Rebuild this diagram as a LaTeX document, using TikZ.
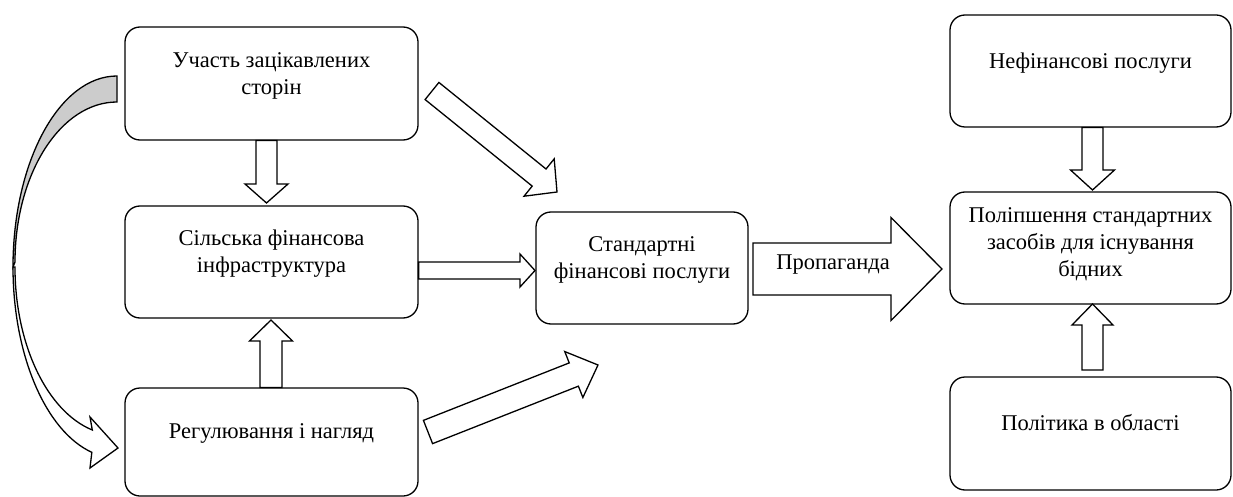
\documentclass[tikz,border=0pt]{standalone}
\usepackage{fontspec}
\setmainfont{Liberation Serif}
\usetikzlibrary{calc}
\newcommand\blockarrow[6][]{%
  \coordinate (ba-h) at ($(#3)!#6!(#2)$);
  \draw[barrow,#1] ($(#2)!#4!90:(#3)$) -- ($(ba-h)!#4!90:(#3)$) -- ($(ba-h)!#5!90:(#3)$) -- (#3)
    -- ($(ba-h)!#5!-90:(#3)$) -- ($(ba-h)!#4!-90:(#3)$) -- ($(#2)!#4!-90:(#3)$) -- cycle;}
\begin{document}
\begin{tikzpicture}[x=1pt,y=-1pt]
\tikzset{
  box/.style={draw=black, line width=1.3pt, rounded corners=15pt, inner sep=0pt},
  txt/.style={align=center, font=\fontsize{22.5}{27}\selectfont, inner sep=0pt},
  barrow/.style={draw=black, line width=1.3pt, fill=white, line join=miter},
}
\useasboundingbox (0,0) rectangle (1233,497);
% boxes
\node[box, minimum width=293pt, minimum height=113pt] (b1) at (271.5,83.5) {};
\node[box, minimum width=293pt, minimum height=112pt] (b2) at (271.5,262) {};
\node[box, minimum width=293pt, minimum height=108pt] (b3) at (271.5,442) {};
\node[box, minimum width=212pt, minimum height=112pt] (m) at (642,268) {};
\node[box, minimum width=281pt, minimum height=112pt] (r1) at (1090.5,71) {};
\node[box, minimum width=281pt, minimum height=112pt] (r2) at (1090.5,248) {};
\node[box, minimum width=281pt, minimum height=113pt] (r3) at (1090.5,433.5) {};
% curved arrow
\draw[barrow] (13,267) arc[start angle=180, end angle=104, x radius=104, y radius=191]
  -- (90,468) -- (118,448) -- (90,417) -- (92.3,430)
  arc[start angle=104, end angle=180, x radius=102, y radius=168] -- cycle;
\draw[barrow, fill=black!20] (117,76) arc[start angle=270, end angle=180, x radius=104, y radius=191]
  -- (15,262) arc[start angle=180, end angle=270, x radius=102, y radius=160] -- cycle;
% block arrows
\coordinate (a1s) at (266.5,140.6); \coordinate (a1e) at (266.5,203);
\coordinate (a2s) at (271,387.4);   \coordinate (a2e) at (271,320);
\coordinate (a3s) at (418.6,270.5); \coordinate (a3e) at (535,270.5);
\coordinate (a4s) at (432,91);      \coordinate (a4e) at (557,192);
\coordinate (a5s) at (428,432);     \coordinate (a5e) at (598,365);
\coordinate (a6s) at (753,269);     \coordinate (a6e) at (942,269);
\coordinate (a7s) at (1092.5,127.6);\coordinate (a7e) at (1092.5,190);
\coordinate (a8s) at (1092.5,370);  \coordinate (a8e) at (1092.5,304);
\blockarrow{a1s}{a1e}{10.5pt}{21.5pt}{19pt}
\blockarrow{a2s}{a2e}{11pt}{21.5pt}{21pt}
\blockarrow{a3s}{a3e}{8.5pt}{16.5pt}{15pt}
\blockarrow{a4s}{a4e}{11pt}{24pt}{23pt}
\blockarrow{a5s}{a5e}{12.5pt}{24.7pt}{26pt}
\blockarrow{a6s}{a6e}{26pt}{51.5pt}{51pt}
\blockarrow{a7s}{a7e}{10.5pt}{22pt}{20pt}
\blockarrow{a8s}{a8e}{10.5pt}{20.5pt}{21pt}
% texts
\node[txt] (t1) at ([yshift=8pt]b1.center) {Участь зацікавлених\\сторін};
\node[txt] (t2) at ([yshift=8pt]b2.center) {Сільська фінансова\\інфраструктура};
\node[txt] (t3) at ([yshift=9pt]b3.center) {Регулювання і нагляд};
\node[txt] (tm) at ([yshift=8.5pt]m.center) {Стандартні\\фінансові послуги};
\node[txt] (tr1) at ([yshift=8pt]r1.center) {Нефінансові послуги};
\node[txt] (tr2) at ([yshift=3.5pt]r2.center) {Поліпшення стандартних\\засобів для існування\\бідних};
\node[txt] (tr3) at ([yshift=11pt]r3.center) {Політика в області};
\node[txt] (prop) at (833,265) {Пропаганда};
\end{tikzpicture}
\end{document}
